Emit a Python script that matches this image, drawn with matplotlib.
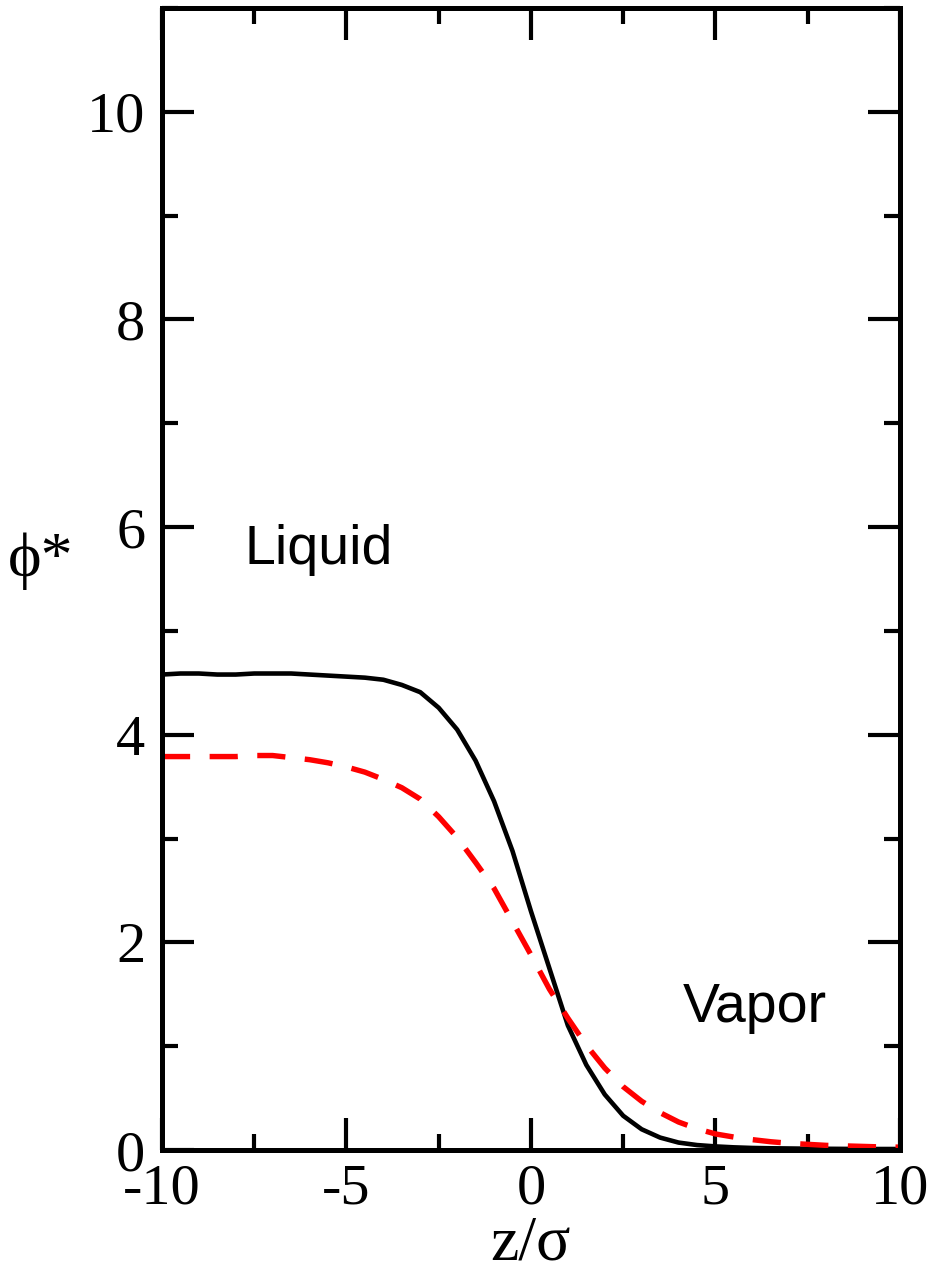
import matplotlib
matplotlib.use("Agg")
import matplotlib.pyplot as plt
from matplotlib.ticker import MultipleLocator

# z/sigma grid of the profiles
z = [-10, -9.5, -9, -8.5, -8, -7.5, -7, -6.5, -6, -5.5, -5, -4.5, -4, -3.5, -3,
     -2.5, -2, -1.5, -1, -0.5, 0, 0.5, 1, 1.5, 2, 2.5, 3, 3.5, 4, 4.5, 5,
     5.5, 6, 6.5, 7, 7.5, 8, 8.5, 9, 9.5, 10]

# solid black profile
phi_solid = [4.58, 4.59, 4.59, 4.58, 4.58, 4.59, 4.59, 4.59, 4.58, 4.57, 4.56,
             4.55, 4.53, 4.48, 4.41, 4.26, 4.05, 3.75, 3.36, 2.88, 2.30, 1.75,
             1.20, 0.82, 0.535, 0.33, 0.20, 0.12, 0.072, 0.048, 0.035, 0.026,
             0.02, 0.017, 0.015, 0.013, 0.012, 0.011, 0.01, 0.01, 0.01]

# dashed red profile
phi_dash = [3.79, 3.79, 3.79, 3.79, 3.79, 3.80, 3.80, 3.78, 3.76, 3.73, 3.69,
            3.64, 3.57, 3.49, 3.38, 3.21, 3.01, 2.77, 2.52, 2.20, 1.88, 1.55,
            1.27, 1.01, 0.79, 0.61, 0.47, 0.36, 0.27, 0.205, 0.155, 0.125,
            0.10, 0.08, 0.065, 0.055, 0.045, 0.04, 0.035, 0.03, 0.028]

xticks = [-10, -5, 0, 5, 10]
yticks = [0, 2, 4, 6, 8, 10]

fig = plt.figure(figsize=(9.4, 12.74), dpi=100)
ax = fig.add_axes([0.1723, 0.0973, 0.7851, 0.8964])

ax.plot(z, phi_solid, color="black", lw=3.3)
ax.plot(z, phi_dash, color="red", lw=3.9, dashes=(5.2, 3.6))

ax.set_xlim(-10, 10)
ax.set_ylim(0, 11)
ax.set_xticks(xticks)
ax.set_yticks(yticks)
ax.xaxis.set_minor_locator(MultipleLocator(2.5))
ax.yaxis.set_minor_locator(MultipleLocator(1))

serif = "Liberation Serif"
ax.set_xticklabels([str(t) for t in xticks], fontfamily=serif, fontsize=42)
ax.set_yticklabels([str(t) for t in yticks], fontfamily=serif, fontsize=42)

ax.tick_params(which="both", direction="in", top=True, right=True, width=3.0)
ax.tick_params(which="major", length=23)
ax.tick_params(which="minor", length=11.5)
ax.tick_params(axis="y", pad=12)
ax.tick_params(axis="x", pad=10)
for s in ax.spines.values():
    s.set_linewidth(3.6)

ax.set_xlabel("z/σ", fontfamily=serif, fontsize=46, labelpad=0)
ax.set_ylabel("ϕ*", fontfamily=[serif, "DejaVu Serif"], fontsize=46,
              rotation=0, labelpad=18)
ax.yaxis.set_label_coords(-0.165, 0.49)

ax.text(-7.75, 5.64, "Liquid", fontfamily="Liberation Sans", fontsize=40)
ax.text(4.12, 1.23, "Vapor", fontfamily="Liberation Sans", fontsize=40)

fig.savefig("out.png", dpi=100)
